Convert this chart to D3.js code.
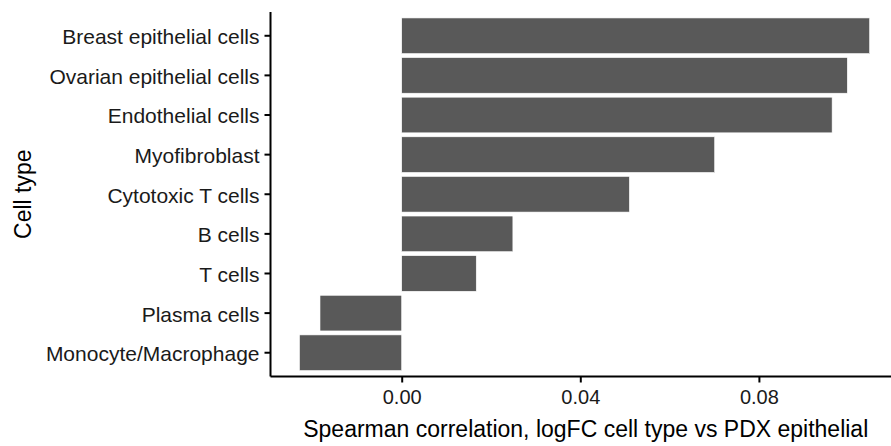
<!DOCTYPE html>
<html>
<head>
	<meta charset="utf-8">
	<script src="https://cdn.jsdelivr.net/npm/d3@7"></script>
	<style>
		body { margin: 0; background: #fff; }
		text { font-family: "Liberation Sans", Arial, sans-serif; }
	</style>
</head>
<body>
<script>
	var width = 891, height = 446;

	// cell types, top to bottom
	var cellTypes = ["Breast epithelial cells", "Ovarian epithelial cells", "Endothelial cells",
		"Myofibroblast", "Cytotoxic T cells", "B cells", "T cells", "Plasma cells", "Monocyte/Macrophage"];
	var correlations = [0.1048, 0.0998, 0.0964, 0.0701, 0.0510, 0.0249, 0.0167, -0.0183, -0.0229];
	var xTicks = [0.00, 0.04, 0.08];

	var data = cellTypes.map(function(c, i) { return {type: c, value: correlations[i]}; });

	var svg = d3.select("body").append("svg").attr("width", width).attr("height", height);

	var plotLeft = 270.5, plotTop = 12, plotBottom = 376.5;
	// 0 sits at 401.7, 0.04 at 580.3
	var x = d3.scaleLinear().domain([0, 0.04]).range([401.7, 580.3]);
	var y = d3.scaleBand().domain(cellTypes).range([plotTop, plotBottom]).paddingInner(0.1).paddingOuter(0.15);

	svg.append("g").selectAll("rect").data(data).enter().append("rect")
		.attr("x", function(d) { return x(Math.min(0, d.value)); })
		.attr("y", function(d) { return y(d.type); })
		.attr("width", function(d) { return Math.abs(x(d.value) - x(0)); })
		.attr("height", y.bandwidth())
		.attr("fill", "#595959")
		.attr("stroke", "#fff")
		.attr("stroke-width", 0.6);

	// x axis
	var xa = svg.append("g").attr("transform", "translate(0," + plotBottom + ")")
		.call(d3.axisBottom(x).tickValues(xTicks).tickFormat(d3.format(".2f")).tickSize(6).tickPadding(7));
	xa.select(".domain").attr("d", "M" + plotLeft + ",0H" + width).attr("stroke", "#000").attr("stroke-width", 2);
	xa.selectAll(".tick line").attr("stroke", "#000").attr("stroke-width", 2);
	xa.selectAll(".tick text").attr("fill", "#1a1a1a").style("font-size", "20px").style("font-family", "Liberation Sans, Arial, sans-serif");

	// y axis
	var ya = svg.append("g").attr("transform", "translate(" + plotLeft + ",0)")
		.call(d3.axisLeft(y).tickSize(6).tickPadding(5));
	ya.select(".domain").attr("d", "M0," + plotTop + "V" + plotBottom).attr("stroke", "#000").attr("stroke-width", 2);
	ya.selectAll(".tick line").attr("stroke", "#000").attr("stroke-width", 2);
	ya.selectAll(".tick text").attr("fill", "#1a1a1a").attr("dy", "0.4em").style("font-size", "21px").style("font-family", "Liberation Sans, Arial, sans-serif");

	// axis titles
	svg.append("text").attr("x", (plotLeft + width) / 2 + 5).attr("y", 437)
		.attr("text-anchor", "middle").style("font-size", "23px").attr("fill", "#000")
		.text("Spearman correlation, logFC cell type vs PDX epithelial");

	svg.append("text").attr("transform", "translate(31," + ((plotTop + plotBottom) / 2) + ") rotate(-90)")
		.attr("text-anchor", "middle").style("font-size", "23px").attr("fill", "#000")
		.text("Cell type");
</script>
</body>
</html>
